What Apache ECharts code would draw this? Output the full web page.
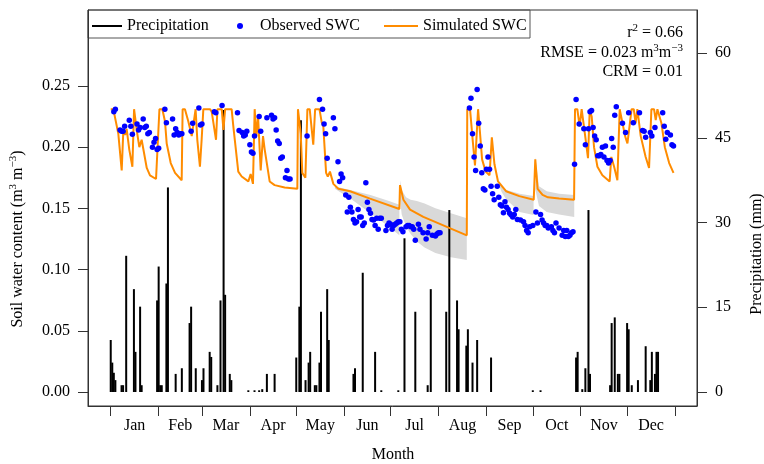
<!DOCTYPE html>
<html lang="en">

<head>
    <meta charset="UTF-8">
    <title>Soil water content and precipitation</title>
    <script src="https://cdn.jsdelivr.net/npm/echarts@6.0.0/dist/echarts.min.js"></script>
    <style>
        body { margin: 0; background: #fff; }
        #chart { width: 764px; height: 464px; }
    </style>
</head>

<body>
    <div id="chart"></div>

    <script>
        // x values are day of year (0 = 1 Jan)
        const monthStarts = [0, 31, 59, 90, 120, 151, 181, 212, 243, 273, 304, 334, 365];
        const monthMids = [15.5, 45, 74.5, 105, 135.5, 166, 196.5, 227.5, 258, 288.5, 319, 349.5];
        const monthNames = ['Jan', 'Feb', 'Mar', 'Apr', 'May', 'Jun', 'Jul', 'Aug', 'Sep', 'Oct', 'Nov', 'Dec'];
        const swcTicks = [0, 0.05, 0.10, 0.15, 0.20, 0.25];
        const rainTicks = [0, 15, 30, 45, 60];

        // daily precipitation (mm)
        const rainDays = [0, 1, 2, 3, 7, 8, 10, 15, 16, 19, 20, 30, 31, 32, 33, 36, 37, 42, 46, 51, 52, 55, 59, 60,
            64, 65, 69, 71, 73, 74, 77, 78, 89, 93, 96, 98, 101, 106, 120, 122, 123, 126, 128, 129, 132, 133, 135,
            136, 140, 141, 157, 158, 163, 171, 175, 186, 190, 197, 205, 207, 217, 219, 224, 225, 230, 231, 234,
            237, 246, 273, 278, 301, 302, 305, 307, 309, 310, 323, 324, 326, 328, 329, 334, 335, 337, 341, 346,
            349, 350, 352, 353, 354];
        const rainMm = [9.2, 5.2, 3.4, 2.1, 1.2, 1.2, 24.1, 18.2, 7.1, 15.1, 1.2, 16.2, 22.2, 1.2, 1.2, 19.2, 36.2,
            3.2, 4.2, 12.2, 15.1, 4.2, 2.1, 4.2, 7.1, 6.2, 1.2, 16.2, 49.9, 17.2, 3.2, 2.1, 0.3, 0.3, 0.3, 0.5, 3.2,
            3.2, 6.1, 15.1, 48.1, 2.1, 5.2, 7.1, 1.2, 1.2, 5.2, 14.2, 18.2, 9.2, 3.2, 4.2, 21.1, 7.1, 0.3, 0.3, 27.2,
            14.2, 1.2, 18.2, 14.2, 32.2, 16.2, 11.1, 8.2, 11.1, 5.2, 9.2, 6.1, 0.3, 0.3, 6.1, 7.1, 0.5, 4.2, 32.2,
            3.2, 1.2, 12.2, 13.2, 3.2, 3.2, 12.2, 11.1, 1.2, 2.1, 8.1, 2.1, 7.1, 3.2, 7.1, 7.1];

        // observed soil water content (m3 m-3)
        const obsDays = [2, 3, 6, 7, 8, 9, 12, 13, 14, 17, 18, 19, 21, 22, 23, 24, 25, 27, 28, 29, 30, 31, 35, 36,
            40, 41, 42, 43, 44, 45, 46, 52, 53, 57, 58, 59, 67, 68, 72, 82, 83, 85, 86, 87, 88, 90, 91, 92, 93, 96,
            97, 101, 104, 105, 106, 107, 108, 109, 110, 111, 113, 114, 115, 116, 127, 135, 137, 138, 139, 140, 144,
            145, 147, 148, 149, 150, 152, 153, 154, 155, 156, 157, 158, 159, 160, 161, 162, 163, 164, 165, 166, 167,
            168, 169, 170, 171, 172, 173, 174, 175, 178, 179, 180, 181, 182, 183, 184, 185, 186, 187, 188, 189, 191,
            192, 193, 194, 195, 196, 197, 199, 200, 202, 204, 205, 206, 208, 210, 211, 212, 213, 232, 233, 234, 235,
            236, 237, 238, 239, 240, 241, 242, 243, 244, 245, 246, 247, 248, 250, 251, 252, 253, 254, 255, 256, 257,
            258, 259, 260, 261, 262, 263, 265, 267, 268, 269, 270, 271, 273, 275, 276, 278, 279, 280, 281, 282, 283,
            285, 286, 287, 288, 290, 292, 293, 294, 295, 296, 297, 298, 299, 300, 301, 303, 306, 307, 309, 310, 311,
            312, 313, 314, 315, 316, 317, 318, 319, 320, 321, 322, 323, 324, 325, 326, 327, 331, 333, 335, 338, 342,
            344, 345, 346, 349, 350, 352, 357, 358, 359, 360, 362, 363, 364];
        const obsSwc = [0.229, 0.231, 0.214, 0.213, 0.213, 0.217, 0.222, 0.217, 0.2105, 0.219, 0.214, 0.216, 0.223,
            0.216, 0.217, 0.211, 0.212, 0.200, 0.204, 0.207, 0.198, 0.199, 0.231, 0.220, 0.223, 0.210, 0.215, 0.212,
            0.210, 0.211, 0.211, 0.213, 0.2195, 0.232, 0.218, 0.219, 0.229, 0.228, 0.234, 0.228, 0.2135, 0.212,
            0.209, 0.210, 0.213, 0.202, 0.196, 0.195, 0.209, 0.225, 0.213, 0.224, 0.226, 0.223, 0.224, 0.214,
            0.205, 0.203, 0.191, 0.192, 0.175, 0.181, 0.174, 0.174, 0.209, 0.239, 0.231, 0.219, 0.211, 0.191,
            0.224, 0.215, 0.188, 0.172, 0.178, 0.175, 0.161, 0.147, 0.159, 0.151, 0.147, 0.141, 0.138, 0.139,
            0.149, 0.143, 0.143, 0.136, 0.138, 0.171, 0.155, 0.149, 0.146, 0.141, 0.1405, 0.136, 0.142, 0.133,
            0.142, 0.142, 0.132, 0.136, 0.138, 0.137, 0.133, 0.136, 0.137, 0.138, 0.139, 0.139, 0.133, 0.131, 0.135,
            0.136, 0.136, 0.135, 0.135, 0.133, 0.124, 0.137, 0.133, 0.130, 0.125, 0.130, 0.135, 0.128, 0.1275,
            0.129, 0.130, 0.130, 0.232, 0.240, 0.211, 0.192, 0.181, 0.247, 0.2195, 0.201, 0.179, 0.166, 0.165,
            0.182, 0.192, 0.182, 0.168, 0.162, 0.157, 0.168, 0.159, 0.153, 0.152, 0.1465, 0.1555, 0.151, 0.149,
            0.146, 0.1446, 0.143, 0.145, 0.149, 0.141, 0.1405, 0.139, 0.136, 0.132, 0.130, 0.135, 0.136, 0.147,
            0.138, 0.145, 0.1405, 0.138, 0.136, 0.136, 0.134, 0.135, 0.132, 0.130, 0.138, 0.134, 0.128, 0.132,
            0.127, 0.132, 0.127, 0.128, 0.130, 0.131, 0.186, 0.239, 0.219, 0.215, 0.202, 0.215, 0.229, 0.230,
            0.216, 0.209, 0.206, 0.193, 0.193, 0.194, 0.200, 0.192, 0.201, 0.189, 0.187, 0.189, 0.207, 0.200,
            0.226, 0.233, 0.2195, 0.212, 0.228, 0.220, 0.228, 0.2135, 0.213, 0.208, 0.212, 0.209, 0.216, 0.228,
            0.217, 0.2065, 0.212, 0.210, 0.202, 0.201];

        // simulated soil water content, vertices of the model curve
        const simDays = [0, 1.7, 4.9, 7.1, 8.2, 9.3, 10.3, 12, 14, 15.1, 16.8, 18.5, 20, 23.3, 25.4, 29.3, 30.2,
            31.5, 33.4, 35.1, 36.2, 38.8, 41.6, 45.9, 46.5, 48, 50.2, 52.4, 54.9, 56, 57.7, 58.8, 59.9, 64.2, 65.3,
            68.1, 69, 71.8, 72.9, 74, 78.2, 79.3, 82.5, 84.7, 89, 90.5, 92, 93.1, 94.2, 95.3, 97, 98.5, 99.6, 102.8,
            106, 112.5, 120.7, 121.1, 122.9, 123.9, 125.9, 127.2, 128.7, 131, 132.2, 135, 136.5, 137.5, 139.3,
            140.4, 141.8, 144, 147.2, 154.8, 167.7, 186.7, 187.1, 189.3, 193.6, 202.2, 230.3, 230.6, 232.4, 234.1,
            235.6, 237.6, 238.7, 240.2, 242.5, 245, 246.5, 248.2, 250.5, 255.7, 264.3, 273.6, 274.6, 276.1, 279.3,
            282.8, 290, 299.7, 300.3, 301.8, 303.3, 304.6, 305.7, 307.2, 308.7, 309.8, 311.1, 312.6, 314.8, 318,
            322.7, 323.8, 325.6, 327.7, 329.2, 330.3, 332.7, 334.2, 336.9, 338.3, 339.5, 340.6, 342.8, 346, 348.2,
            349.7, 351.4, 352.5, 353.6, 354.7, 356.2, 358.4, 361.2, 364];
        const simSwc = [0.231, 0.231, 0.211, 0.181, 0.215, 0.210, 0.215, 0.198, 0.184, 0.231, 0.214, 0.200, 0.206,
            0.183, 0.177, 0.174, 0.174, 0.231, 0.231, 0.221, 0.203, 0.187, 0.179, 0.173, 0.231, 0.231, 0.221, 0.209,
            0.231, 0.206, 0.184, 0.206, 0.231, 0.231, 0.229, 0.206, 0.231, 0.231, 0.214, 0.231, 0.231, 0.217, 0.180,
            0.176, 0.172, 0.178, 0.170, 0.231, 0.209, 0.225, 0.181, 0.209, 0.198, 0.172, 0.169, 0.167, 0.166, 0.231,
            0.211, 0.179, 0.175, 0.231, 0.231, 0.202, 0.231, 0.231, 0.220, 0.217, 0.179, 0.176, 0.180, 0.170, 0.166,
            0.164, 0.158, 0.1495, 0.169, 0.157, 0.149, 0.143, 0.128, 0.231, 0.231, 0.206, 0.185, 0.231, 0.214, 0.190,
            0.180, 0.177, 0.208, 0.186, 0.172, 0.164, 0.160, 0.157, 0.190, 0.166, 0.161, 0.159, 0.158, 0.157, 0.231,
            0.231, 0.217, 0.231, 0.231, 0.206, 0.191, 0.230, 0.225, 0.200, 0.184, 0.177, 0.172, 0.192, 0.184, 0.173,
            0.231, 0.231, 0.209, 0.203, 0.231, 0.231, 0.2195, 0.231, 0.209, 0.192, 0.183, 0.231, 0.231, 0.222, 0.231,
            0.231, 0.2195, 0.200, 0.187, 0.179];

        // simulation uncertainty band, null separates the pieces
        const bandDays = [145, 150, 155, 168, 180, 186.7, null,
            187.1, 188.2, 191, 194, 198, 203, 210, 220, 230.3, null,
            250.5, 253, 256, 264.5, 273.5, null,
            274.7, 277, 282, 290, 299.8];
        const bandUpper = [0.168, 0.1665, 0.165, 0.161, 0.156, 0.153, null,
            0.173, 0.165, 0.159, 0.157, 0.156, 0.154, 0.150, 0.146, 0.142, null,
            0.172, 0.168, 0.165, 0.162, 0.160, null,
            0.192, 0.168, 0.164, 0.162, 0.161];
        const bandLower = [0.166, 0.162, 0.158, 0.146, 0.135, 0.128, null,
            0.158, 0.145, 0.135, 0.129, 0.123, 0.118, 0.1135, 0.110, 0.1078, null,
            0.171, 0.163, 0.157, 0.147, 0.1445, null,
            0.165, 0.152, 0.147, 0.145, 0.143];

        const serif = "'Liberation Serif', 'Times New Roman', serif";

        const bandPieces = [];
        let piece = [];
        bandDays.forEach((d, i) => {
            if (d === null) { bandPieces.push(piece); piece = []; }
            else piece.push(i);
        });
        if (piece.length) bandPieces.push(piece);

        function legendAt(name, left, width, height, icon) {
            return {
                data: [{ name: name, icon: icon }], left: left, top: 18, padding: 0,
                itemWidth: width, itemHeight: height, selectedMode: false,
                textStyle: { fontFamily: serif, fontSize: 16, color: '#000' }
            };
        }

        const lineStyle = { show: true, onZero: false, lineStyle: { color: '#333' } };
        const hiddenLine = { show: false, onZero: false };
        const tickStyle = { show: true, inside: false, length: 10, lineStyle: { color: '#333', width: 1 } };
        const labelStyle = { margin: 18, color: '#000', fontFamily: serif, fontSize: 16 };

        // grid 0 holds the data; grids 1 and 2 only carry the tick scales
        // (they span exactly 0..0.25 and 0..60 of the data grid)
        const chart = echarts.init(document.getElementById('chart'));
        chart.setOption({
            animation: false,
            grid: [
                { left: 88, right: 67, top: 10, bottom: 58, show: true, borderColor: '#333', borderWidth: 1 },
                { left: 88, right: 67, top: 86, bottom: 72 },
                { left: 88, right: 67, top: 53, bottom: 72 }
            ],
            legend: [
                legendAt('Precipitation', 92, 30, 2, 'rect'),
                legendAt('Observed SWC', 237, 30, 6, 'circle'),
                legendAt('Simulated SWC', 384, 34, 2, 'rect')
            ],
            xAxis: [{
                type: 'value', min: -14.7, max: 379.2,
                axisLine: lineStyle,
                axisTick: Object.assign({ customValues: monthStarts }, tickStyle),
                axisLabel: {
                    customValues: monthMids, margin: 12, color: '#000', fontFamily: serif, fontSize: 16,
                    formatter: v => monthNames[monthMids.indexOf(v)]
                },
                splitLine: { show: false }
            },
            { gridIndex: 1, type: 'value', min: 0, max: 1, show: false, axisLine: hiddenLine },
            { gridIndex: 2, type: 'value', min: 0, max: 1, show: false, axisLine: hiddenLine }],
            yAxis: [{
                type: 'value', min: -0.0114, max: 0.312, position: 'left',
                axisLine: lineStyle, axisTick: { show: false }, axisLabel: { show: false }, splitLine: { show: false }
            }, {
                type: 'value', min: -2.48, max: 67.6, position: 'right',
                axisLine: lineStyle, axisTick: { show: false }, axisLabel: { show: false }, splitLine: { show: false }
            }, {
                gridIndex: 1, type: 'value', min: swcTicks[0], max: swcTicks[swcTicks.length - 1], interval: 0.05,
                position: 'left', axisLine: hiddenLine, axisTick: tickStyle,
                axisLabel: Object.assign({ formatter: v => v.toFixed(2) }, labelStyle), splitLine: { show: false }
            }, {
                gridIndex: 2, type: 'value', min: rainTicks[0], max: rainTicks[rainTicks.length - 1], interval: 15,
                position: 'right', axisLine: hiddenLine, axisTick: tickStyle,
                axisLabel: labelStyle, splitLine: { show: false }
            }],
            series: [{
                name: 'band', type: 'custom', z: 1, silent: true,
                data: bandPieces.map(p => [bandDays[p[0]], bandUpper[p[0]]]),
                renderItem: (params, api) => {
                    const idx = bandPieces[params.dataIndex];
                    const top = idx.map(i => api.coord([bandDays[i], bandUpper[i]]));
                    const bottom = idx.slice().reverse().map(i => api.coord([bandDays[i], bandLower[i]]));
                    return { type: 'polygon', shape: { points: top.concat(bottom) }, style: { fill: '#d9d9d9' } };
                }
            }, {
                name: 'Precipitation', type: 'bar', yAxisIndex: 1, z: 2, barWidth: 2,
                itemStyle: { color: '#000' },
                data: rainDays.map((d, i) => [d, rainMm[i]])
            }, {
                name: 'Simulated SWC', type: 'line', z: 3, symbol: 'none',
                lineStyle: { color: '#ff8c00', width: 2 }, itemStyle: { color: '#ff8c00' },
                data: simDays.map((d, i) => [d, simSwc[i]])
            }, {
                name: 'Observed SWC', type: 'scatter', z: 4, symbolSize: 5.5,
                itemStyle: { color: '#0000ff', opacity: 1 },
                data: obsDays.map((d, i) => [d, obsSwc[i]])
            }],
            graphic: [
                { type: 'rect', shape: { x: 88, y: 10, width: 442, height: 28 }, style: { fill: 'none', stroke: '#555', lineWidth: 1 } },
                {
                    type: 'text', x: 683, y: 33, style: {
                        text: '{a|r}{s|2}{a| = 0.66}', align: 'right', verticalAlign: 'middle',
                        rich: { a: { fontFamily: serif, fontSize: 16, fill: '#000' }, s: { fontFamily: serif, fontSize: 11, fill: '#000', padding: [0, 0, 9, 0] } }
                    }
                },
                {
                    type: 'text', x: 683, y: 53, style: {
                        text: '{a|RMSE = 0.023 m}{s|3}{a|m}{s|\u22123}', align: 'right', verticalAlign: 'middle',
                        rich: { a: { fontFamily: serif, fontSize: 16, fill: '#000' }, s: { fontFamily: serif, fontSize: 11, fill: '#000', padding: [0, 0, 9, 0] } }
                    }
                },
                {
                    type: 'text', x: 683, y: 72, style: {
                        text: 'CRM = 0.01', align: 'right', verticalAlign: 'middle', fontFamily: serif, fontSize: 16, fill: '#000'
                    }
                },
                {
                    type: 'text', x: 393, y: 455, style: {
                        text: 'Month', align: 'center', verticalAlign: 'middle', fontFamily: serif, fontSize: 16, fill: '#000'
                    }
                },
                {
                    type: 'text', x: 18, y: 239, rotation: Math.PI / 2, style: {
                        text: '{a|Soil water content (m}{s|3}{a| m}{s|\u22123}{a|)}', align: 'center', verticalAlign: 'middle',
                        rich: { a: { fontFamily: serif, fontSize: 16, fill: '#000' }, s: { fontFamily: serif, fontSize: 11, fill: '#000', padding: [0, 0, 9, 0] } }
                    }
                },
                {
                    type: 'text', x: 757, y: 254, rotation: Math.PI / 2, style: {
                        text: 'Precipitation (mm)', align: 'center', verticalAlign: 'middle', fontFamily: serif, fontSize: 16, fill: '#000'
                    }
                }
            ]
        });
    </script>
</body>

</html>
